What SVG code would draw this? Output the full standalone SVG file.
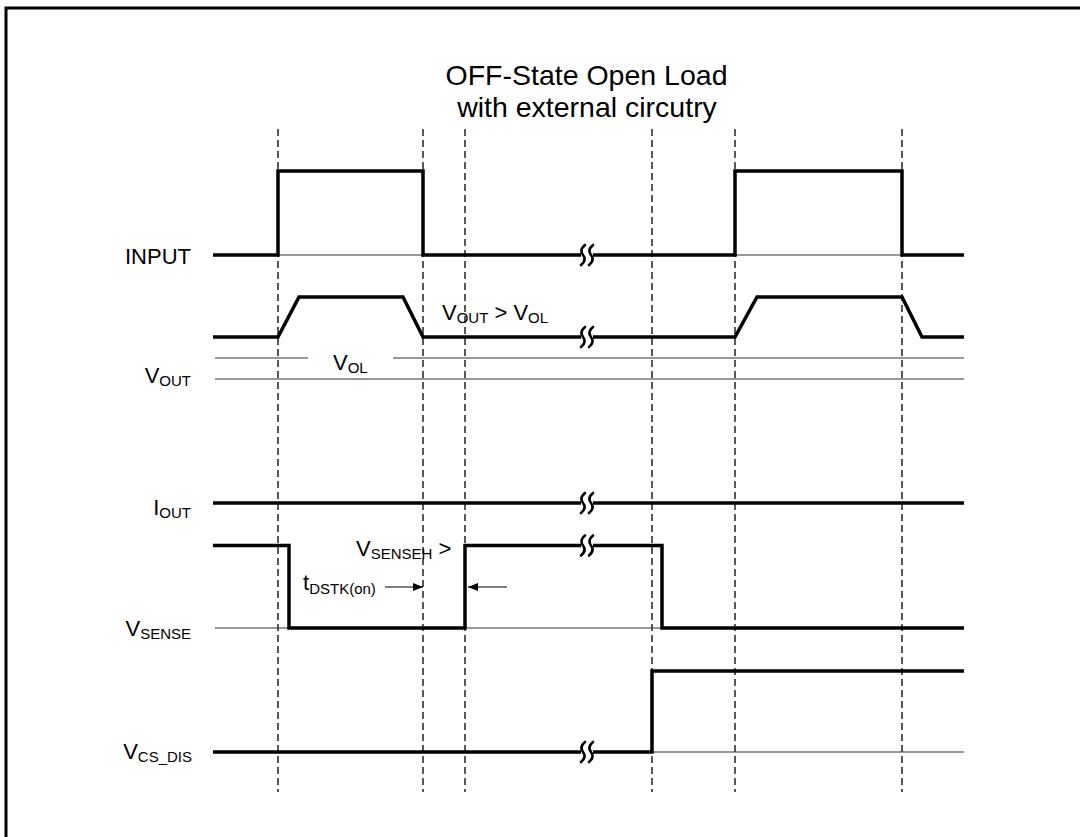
<svg xmlns="http://www.w3.org/2000/svg" width="1080" height="837" viewBox="0 0 1080 837">
<defs>
<style>
.lbl{font-family:"Liberation Sans",Arial,sans-serif;font-size:22px;fill:#000}
.sub{font-size:15px}
.title{font-family:"Liberation Sans",Arial,sans-serif;font-size:28.5px;fill:#000;text-anchor:middle}
.sig{fill:none;stroke:#000;stroke-width:3.5;stroke-linejoin:miter;stroke-linecap:butt}
.thin{fill:none;stroke:#333;stroke-width:1.2}
.dash{fill:none;stroke:#000;stroke-width:1.3;stroke-dasharray:7 4}
.brk{fill:none;stroke:#000;stroke-width:2.6;stroke-linecap:round}
.arr{fill:none;stroke:#000;stroke-width:1.2}
</style>
<marker id="ah" viewBox="0 0 10 8" refX="10" refY="4" markerWidth="10" markerHeight="8" markerUnits="userSpaceOnUse" orient="auto">
<path d="M0,0 L10,4 L0,8 Z" fill="#000"/>
</marker>
<g id="brkSym">
<rect x="-6" y="-4" width="12" height="8" fill="#fff"/>
<path class="brk" d="M-2,-10 Q-8,-5 -4,0 Q0,5 -6,10"/>
<path class="brk" d="M6,-10 Q0,-5 4,0 Q8,5 2,10"/>
</g>
</defs>
<rect width="1080" height="837" fill="#fff"/>
<path d="M6,837 V8 H1080" fill="none" stroke="#000" stroke-width="3"/>

<g id="title">
<text class="title" x="586.5" y="85">OFF-State Open Load</text>
<text class="title" x="587" y="117">with external circutry</text>
</g>

<g id="gridlines">
<line class="dash" x1="278" y1="129" x2="278" y2="792"/>
<line class="dash" x1="423" y1="129" x2="423" y2="792"/>
<line class="dash" x1="465" y1="129" x2="465" y2="792"/>
<line class="dash" x1="652" y1="129" x2="652" y2="792"/>
<line class="dash" x1="735" y1="129" x2="735" y2="792"/>
<line class="dash" x1="902" y1="129" x2="902" y2="792"/>
</g>

<g id="input">
<line class="thin" x1="213" y1="255" x2="964" y2="255"/>
<path class="sig" d="M213,255 H278 V171 H423 V255 H735 V171 H902 V255 H964"/>
<use href="#brkSym" x="587" y="255"/>
<text class="lbl" x="191" y="264" text-anchor="end">INPUT</text>
</g>

<g id="vout">
<line class="thin" x1="215" y1="358" x2="308" y2="358"/>
<line class="thin" x1="393" y1="358" x2="964" y2="358"/>
<line class="thin" x1="215" y1="379" x2="964" y2="379"/>
<path class="sig" d="M213,337 H278 L299,297 H403 L423,337 H735 L757,297 H902 L922,337 H964"/>
<use href="#brkSym" x="587" y="337"/>
<text class="lbl" x="191" y="383" text-anchor="end">V<tspan class="sub" dy="3">OUT</tspan></text>
<text class="lbl" x="333" y="370">V<tspan class="sub" dy="3">OL</tspan></text>
<text class="lbl" x="442" y="320">V<tspan class="sub" dy="3">OUT</tspan><tspan dy="-3"> &gt; V</tspan><tspan class="sub" dy="3">OL</tspan></text>
</g>

<g id="iout">
<path class="sig" d="M213,503 H964"/>
<use href="#brkSym" x="587" y="503"/>
<text class="lbl" x="191" y="515" text-anchor="end">I<tspan class="sub" dy="3">OUT</tspan></text>
</g>

<g id="vsense">
<line class="thin" x1="215" y1="628" x2="964" y2="628"/>
<path class="sig" d="M213,545.5 H289 V628 H465 V545.5 H662 V628 H964"/>
<use href="#brkSym" x="587" y="545.5"/>
<text class="lbl" x="191" y="636" text-anchor="end">V<tspan class="sub" dy="3">SENSE</tspan></text>
<text class="lbl" x="356" y="556">V<tspan class="sub" dy="3">SENSEH</tspan><tspan dy="-3"> &gt;</tspan></text>
<text class="lbl" x="303" y="590">t<tspan class="sub" dy="4">DSTK(on)</tspan></text>
</g>

<g id="vcsdis">
<line class="thin" x1="213" y1="752" x2="964" y2="752"/>
<path class="sig" d="M213,752 H652 V671 H964"/>
<use href="#brkSym" x="587" y="752"/>
<text class="lbl" x="192" y="759" text-anchor="end">V<tspan class="sub" dy="3">CS_DIS</tspan></text>
</g>

<g id="connectors">
<line class="arr" x1="385" y1="587" x2="423" y2="587" marker-end="url(#ah)"/>
<line class="arr" x1="507" y1="587" x2="468" y2="587" marker-end="url(#ah)"/>
</g>
</svg>
